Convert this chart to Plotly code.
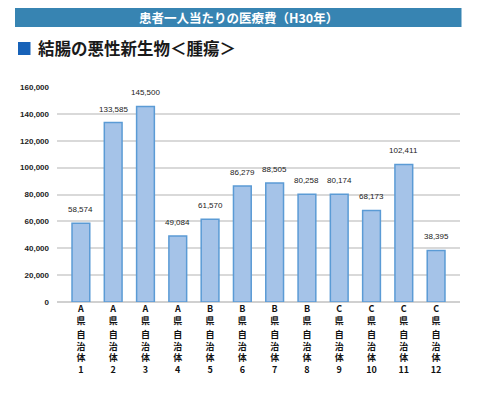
import plotly.graph_objects as go

groups = ["A県", "A県", "A県", "A県", "B県", "B県", "B県", "B県", "C県", "C県", "C県", "C県"]
munis = ["自治体1", "自治体2", "自治体3", "自治体4", "自治体5", "自治体6",
         "自治体7", "自治体8", "自治体9", "自治体10", "自治体11", "自治体12"]
values = [58574, 133585, 145500, 49084, 61570, 86279, 88505, 80258, 80174, 68173, 102411, 38395]
title_text = "患者一人当たりの医療費（H30年）"
subtitle_text = "結腸の悪性新生物＜腫瘍＞"

categories = [g + m for g, m in zip(groups, munis)]
tick_top = ["<br>".join([g[0], g[1:]]) for g in groups]
tick_bottom = ["<br>".join(list(m[:3]) + [m[3:]]) for m in munis]

# the page body has an 8px margin; the figure is sized/positioned to compensate
OFF = 8
W, H = 480 - OFF, 397 - OFF
L, R, T, B = 57 - OFF, 20, 87 - OFF, 95
pw, ph = W - L - R, H - T - B


def px(x):
    return (x - OFF - L) / pw


def py(y):
    return (H - B - (y - OFF)) / ph


JP = "Noto Sans CJK JP"
NUM = "Liberation Sans, Noto Sans CJK JP"

fig = go.Figure()
fig.add_trace(go.Bar(
    x=categories, y=values,
    marker=dict(color="#A5C3E8", line=dict(color="#5B9BD5", width=1.5)),
    hoverinfo="skip",
))
fig.add_trace(go.Scatter(
    x=categories, y=[0] * len(categories), xaxis="x2", mode="markers",
    marker=dict(opacity=0), hoverinfo="skip", showlegend=False,
))

annotations = []
for c, v in zip(categories, values):
    annotations.append(dict(
        x=c, y=v, xref="x", yref="y", text=f"{v:,}", showarrow=False,
        yanchor="bottom", yshift=7, font=dict(family=NUM, size=8, color="#222222"),
    ))
annotations.append(dict(
    x=px(238), y=py(17), xref="paper", yref="paper", text=title_text, showarrow=False,
    xanchor="center", yanchor="middle",
    font=dict(family=JP, size=12.5, color="white", weight="bold"),
))
annotations.append(dict(
    x=px(36), y=py(48), xref="paper", yref="paper", text=subtitle_text, showarrow=False,
    xanchor="left", yanchor="middle",
    font=dict(family=JP, size=16.5, color="#1a1a1a", weight="bold"),
))

shapes = [
    dict(type="rect", xref="paper", yref="paper", x0=px(15), x1=px(461.5), y0=py(27), y1=py(OFF - 1),
         fillcolor="#3784B2", line=dict(width=0), layer="below"),
    dict(type="rect", xref="paper", yref="paper", x0=px(18), x1=px(30.5), y0=py(55), y1=py(42),
         fillcolor="#1762B8", line=dict(width=0)),
]

fig.update_layout(
    width=W, height=H,
    margin=dict(l=L, r=R, t=T, b=B, pad=0, autoexpand=False),
    paper_bgcolor="white", plot_bgcolor="white",
    showlegend=False, bargap=0.45,
    annotations=annotations, shapes=shapes,
    xaxis=dict(
        type="category", categoryorder="array", categoryarray=categories,
        tickmode="array", tickvals=categories, ticktext=tick_top,
        tickfont=dict(family=JP, size=9, color="#111111", weight="bold"),
        showgrid=False, showline=False, ticks="", tickangle=0, automargin=False,
    ),
    xaxis2=dict(
        type="category", categoryorder="array", categoryarray=categories,
        overlaying="x", anchor="y", side="bottom", matches="x",
        tickmode="array", tickvals=categories, ticktext=tick_bottom,
        tickfont=dict(family=JP, size=9, color="#111111", weight="bold"),
        showgrid=False, showline=False, ticks="", tickangle=0, ticklabelstandoff=26,
        automargin=False,
    ),
    yaxis=dict(
        range=[0, 160000], dtick=20000, tickformat=",",
        tickfont=dict(family=NUM, size=8, color="#222222", weight="bold"),
        gridcolor="#D9D9D9", gridwidth=1.5, zeroline=True, zerolinecolor="#D0D0D0",
        zerolinewidth=1.5, showline=False, ticks="", ticklabelstandoff=7,
        automargin=False,
    ),
)

fig.write_html("out.html")
